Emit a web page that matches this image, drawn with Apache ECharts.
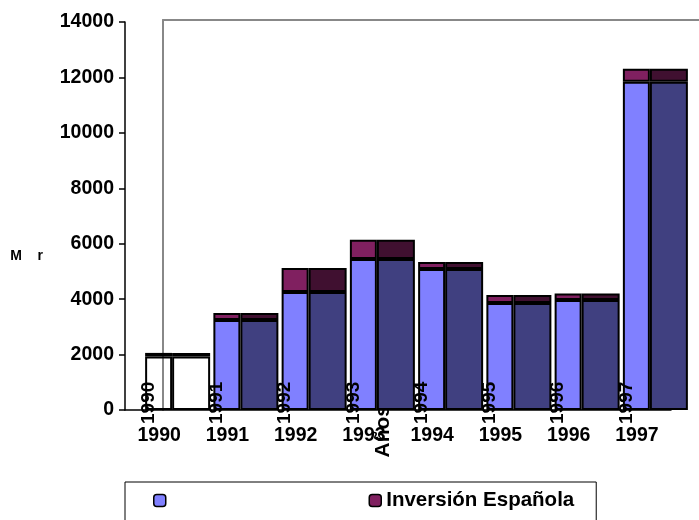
<!DOCTYPE html>
<html>
<head>
<meta charset="utf-8">
<script src="https://cdn.jsdelivr.net/npm/echarts@6/dist/echarts.min.js"></script>
<style>
  html, body { margin: 0; padding: 0; background: #fff; }
  #chart { width: 699px; height: 520px; }
</style>
</head>
<body>
<div id="chart"></div>
<script>
// datos
var years = ['1990', '1991', '1992', '1993', '1994', '1995', '1996', '1997'];
var extranjera = [1930, 3250, 4260, 5450, 5090, 3860, 3970, 11840];
var espanola = [130, 250, 860, 690, 250, 290, 230, 470];
var yTicks = [0, 2000, 4000, 6000, 8000, 10000, 12000, 14000];

var FONT = 'Liberation Sans, Arial, sans-serif';

// 1990 sin relleno
function frontData(vals) {
  return vals.map(function (v, i) {
    return i === 0 ? { value: v, itemStyle: { color: 'rgba(0,0,0,0)' } } : v;
  });
}

var myChart = echarts.init(document.getElementById('chart'));
var option = {
  animation: false,
  backgroundColor: '#fff',
  textStyle: { fontFamily: FONT },
  legend: {
    data: ['Inversión Extranjera', 'Inversión Española'],
    left: 125,
    top: 482,
    padding: [8, 22, 30, 28],
    itemGap: 202,
    itemWidth: 12,
    itemHeight: 12,
    itemStyle: { borderColor: '#000', borderWidth: 1.5 },
    borderColor: '#000',
    borderWidth: 1,
    formatter: function (name) {
      return name === 'Inversión Española' ? name : '';
    },
    textStyle: { fontSize: 20.5, fontWeight: 'bold', color: '#000', fontFamily: FONT }
  },
  grid: [
    { left: 125, right: 28, top: 22, bottom: 110 },   // ejes
    { left: 143.5, right: 9.5, top: 22, bottom: 110 }, // barras
    { left: 163, right: 0, top: 20, bottom: 110 }      // pared del fondo
  ],
  xAxis: [
    {
      gridIndex: 0,
      type: 'category',
      data: years,
      name: 'Años',
      nameLocation: 'middle',
      nameRotate: 90,
      nameGap: -5,
      nameMoveOverlap: false,
      nameTextStyle: { fontSize: 21, fontWeight: 'bold', color: '#000', verticalAlign: 'bottom', lineHeight: 30 },
      axisLine: { lineStyle: { color: '#000', width: 1.5 } },
      axisTick: { length: 6, lineStyle: { color: '#000', width: 1.5 } },
      axisLabel: { margin: 16, fontSize: 19.5, fontWeight: 'bold', color: '#000' }
    },
    {
      gridIndex: 1,
      type: 'category',
      data: years,
      show: false
    },
    {
      gridIndex: 2,
      type: 'value',
      position: 'top',
      min: 0,
      max: 1,
      axisLine: { show: true, onZero: false, lineStyle: { color: '#888', width: 2 } },
      axisTick: { show: false },
      axisLabel: { show: false },
      splitLine: { show: false }
    }
  ],
  yAxis: [
    {
      gridIndex: 0,
      type: 'value',
      min: 0,
      max: 14000,
      interval: 2000,
      name: 'M    r',
      nameLocation: 'middle',
      nameRotate: 0,
      nameGap: 82,
      nameMoveOverlap: false,
      nameTextStyle: { fontSize: 14, fontWeight: 'bold', color: '#000', verticalAlign: 'top', lineHeight: 80 },
      axisLine: { show: true, lineStyle: { color: '#000', width: 1.5 } },
      axisTick: { show: true, length: 6, lineStyle: { color: '#000', width: 1.5 } },
      axisLabel: {
        margin: 11, fontSize: 19.5, fontWeight: 'bold', color: '#000',
        formatter: function (v) { return yTicks.indexOf(v) >= 0 ? String(v) : ''; }
      },
      splitLine: { show: false }
    },
    {
      gridIndex: 1,
      type: 'value',
      min: 0,
      max: 14000,
      show: false
    },
    {
      gridIndex: 2,
      type: 'value',
      min: 0,
      max: 1,
      axisLine: { show: true, onZero: false, lineStyle: { color: '#888', width: 2 } },
      axisTick: { show: false },
      axisLabel: { show: false },
      splitLine: { show: false }
    }
  ],
  series: [
    {
      name: 'Inversión Extranjera',
      type: 'bar',
      xAxisIndex: 1,
      yAxisIndex: 1,
      stack: 'frente',
      barWidth: 27,
      barGap: 0,
      data: frontData(extranjera),
      itemStyle: { color: '#8080ff', borderColor: '#000', borderWidth: 2 },
      label: {
        show: true,
        position: 'insideBottom',
        distance: 0,
        rotate: 90,
        align: 'left',
        verticalAlign: 'middle',
        offset: [-14, -10],
        formatter: '{b}',
        fontSize: 19,
        fontWeight: 'bold',
        color: '#000'
      }
    },
    {
      name: 'Inversión Española',
      type: 'bar',
      xAxisIndex: 1,
      yAxisIndex: 1,
      stack: 'frente',
      barWidth: 27,
      data: espanola,
      itemStyle: { color: '#802060', borderColor: '#000', borderWidth: 2 }
    },
    {
      name: 'Extranjera lado',
      type: 'bar',
      xAxisIndex: 1,
      yAxisIndex: 1,
      stack: 'lado',
      barWidth: 38,
      barGap: 0,
      data: frontData(extranjera),
      itemStyle: { color: '#404080', borderColor: '#000', borderWidth: 2 }
    },
    {
      name: 'Española lado',
      type: 'bar',
      xAxisIndex: 1,
      yAxisIndex: 1,
      stack: 'lado',
      barWidth: 38,
      data: espanola,
      itemStyle: { color: '#401030', borderColor: '#000', borderWidth: 2 }
    }
  ]
};
myChart.setOption(option);
</script>
</body>
</html>
